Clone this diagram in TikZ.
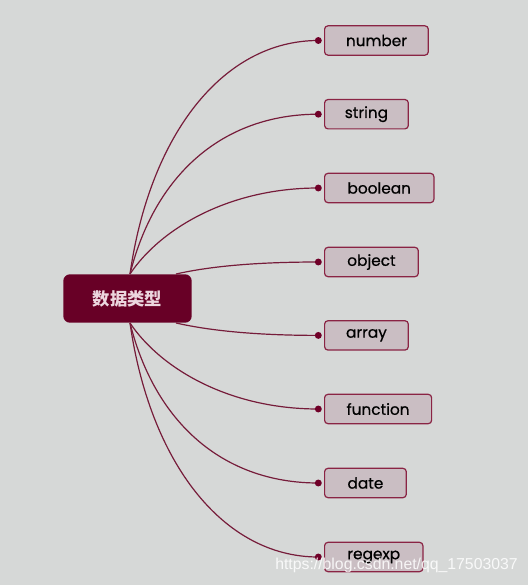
\documentclass[tikz,border=0pt]{standalone}
\usepackage{fontspec}
\setmainfont{Poppins}
\newfontfamily\leaffont{Poppins}[FakeBold=0.6]
\newfontfamily\cjkfont{Noto Sans CJK SC}
\newfontfamily\urlfont{Liberation Sans}
\usetikzlibrary{calc}

\begin{document}
\begin{tikzpicture}[x=0.75pt,y=0.75pt,yscale=-1,xscale=1,
    rootbox/.style={fill={rgb, 255:red, 104; green, 0; blue, 38 },rounded corners=5pt,minimum width=96.3pt,minimum height=36.3pt,inner sep=0pt,text={rgb, 255:red, 236; green, 214; blue, 222 },font=\cjkfont\bfseries\fontsize{13}{15}\selectfont},
    leafbox/.style={draw={rgb, 255:red, 138; green, 36; blue, 68 },line width=0.9pt,fill={rgb, 255:red, 202; green, 190; blue, 195 },rounded corners=2.5pt,minimum height=22pt,inner sep=0pt,anchor=west,font=\leaffont\fontsize{11.5}{13}\selectfont},
    branch/.style={draw={rgb, 255:red, 118; green, 28; blue, 58 },line width=0.9pt},
    knob/.style={fill={rgb, 255:red, 112; green, 0; blue, 40 }}
  ]
  \useasboundingbox (0,0) rectangle (528,585);
  %Background
  \fill [color={rgb, 255:red, 214; green, 216; blue, 215 }] (0,0) rectangle (528,585);
  %Root
  \node [rootbox] (root) at (127.5,298.5) {数据类型};
  \coordinate (rtop) at ($(root.north)+(2.5,0)$);
  \coordinate (rbot) at ($(root.south)+(2.5,0)$);
  \coordinate (rne) at ($(root.north east)+(-16,0)$);
  \coordinate (rse) at ($(root.south east)+(-16,0)$);
  %Leaves
  \foreach \name/\boxw/\yy in {number/103.7/40.5, string/83.7/114.2, boolean/109.3/188, object/93.7/262, array/83.7/335.4, function/107/409, date/81.7/483, regexp/98.3/557}{
    \node [leafbox,minimum width={\boxw*0.75pt}] (\name) at (324,\yy) {\name};
    \coordinate (\name-in) at ($(\name.west)+(-5.7,0)$);
  }
  %Curve Lines
  \draw [branch] (rtop) .. controls +(20,-140) and +(-95,0) .. (number-in);
  \draw [branch] (rtop) .. controls +(25,-100) and +(-95,0) .. (string-in);
  \draw [branch] (rtop) .. controls +(30,-45) and +(-90,0) .. (boolean-in);
  \draw [branch] (rne) .. controls +(35,-8) and +(-60,0) .. (object-in);
  \draw [branch] (rse) .. controls +(35,8) and +(-60,0) .. (array-in);
  \draw [branch] (rbot) .. controls +(30,45) and +(-90,0) .. (function-in);
  \draw [branch] (rbot) .. controls +(25,100) and +(-95,0) .. (date-in);
  \draw [branch] (rbot) .. controls +(20,140) and +(-95,0) .. (regexp-in);
  %Dots
  \foreach \name in {number,string,boolean,object,array,function,date,regexp}
    \fill [knob] (\name-in) circle [radius=2.6pt];
  %Watermark
  \node [anchor=base west,inner sep=0pt,text=white,text opacity=0.85,font=\urlfont\fontsize{11.85}{14}\selectfont] (watermark) at (275,569) {https://blog.csdn.net/qq\_17503037};
\end{tikzpicture}
\end{document}
